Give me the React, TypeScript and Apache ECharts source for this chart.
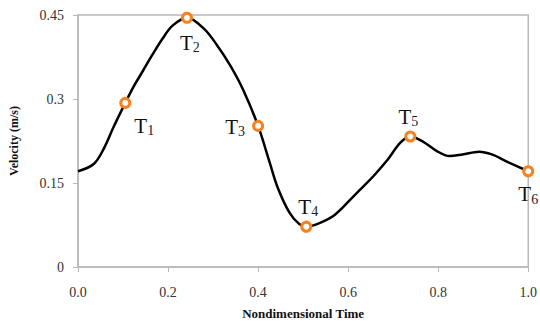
import React, { useEffect, useRef } from "react";
import * as echarts from "echarts";

const curveX = [0, 0.035, 0.057, 0.079, 0.105, 0.122, 0.144, 0.166, 0.188, 0.21, 0.242, 0.279, 0.308, 0.338, 0.367, 0.4, 0.426, 0.443, 0.469, 0.491, 0.507, 0.535, 0.57, 0.607, 0.635, 0.657, 0.688, 0.716, 0.738, 0.766, 0.797, 0.825, 0.854, 0.891, 0.919, 0.956, 1.0];
const curveY = [0.171, 0.184, 0.211, 0.25, 0.293, 0.32, 0.35, 0.38, 0.408, 0.431, 0.445, 0.426, 0.397, 0.36, 0.316, 0.252, 0.186, 0.143, 0.098, 0.077, 0.072, 0.078, 0.093, 0.122, 0.145, 0.163, 0.192, 0.222, 0.233, 0.224, 0.207, 0.198, 0.201, 0.206, 0.201, 0.187, 0.171];

const pointNames = ["1", "2", "3", "4", "5", "6"];
const pointX = [0.105, 0.242, 0.4, 0.507, 0.738, 1.0];
const pointY = [0.293, 0.445, 0.252, 0.072, 0.233, 0.171];
const labelOffsets = [[19, 23], [3, 25], [-23, 1], [2, -20], [-2, -20], [0, 23]];

const SERIF = "Liberation Serif, Times New Roman, serif";

export default function App() {
  const ref = useRef<HTMLDivElement>(null);
  useEffect(() => {
    if (!ref.current) return;
    const chart = echarts.init(ref.current, null, { renderer: "svg" });
    chart.setOption({
      animation: false,
      backgroundColor: "#ffffff",
      grid: { left: 72, right: 10, top: 15, bottom: 56, show: true, borderColor: "#b8b8b8", borderWidth: 1.5 },
      xAxis: {
        type: "value",
        min: 0,
        max: 1,
        interval: 0.2,
        name: "Nondimensional Time",
        nameLocation: "middle",
        nameGap: 40,
        nameTextStyle: { fontFamily: SERIF, fontWeight: "bold", fontSize: 13, color: "#111" },
        axisLine: { show: true, lineStyle: { color: "#b8b8b8", width: 1.5 } },
        axisTick: { show: true, length: 5, lineStyle: { color: "#b8b8b8" } },
        splitLine: { show: false },
        axisLabel: { fontFamily: SERIF, fontSize: 14, color: "#333", margin: 18, formatter: (v: number) => v.toFixed(1) },
      },
      yAxis: {
        type: "value",
        min: 0,
        max: 0.45,
        interval: 0.15,
        name: "Velocity (m/s)",
        nameLocation: "middle",
        nameGap: 58,
        nameTextStyle: { fontFamily: SERIF, fontWeight: "bold", fontSize: 12, color: "#111" },
        axisLine: { show: true, lineStyle: { color: "#b8b8b8", width: 1.5 } },
        axisTick: { show: true, length: 5, lineStyle: { color: "#b8b8b8" } },
        splitLine: { show: false },
        axisLabel: { fontFamily: SERIF, fontSize: 14, color: "#333", margin: 14 },
      },
      series: [
        {
          type: "line",
          data: curveX.map((x, i) => [x, curveY[i]]),
          smooth: 0.35,
          showSymbol: false,
          lineStyle: { color: "#000", width: 2.5 },
          z: 2,
        },
        {
          type: "scatter",
          symbol: "circle",
          symbolSize: 9,
          itemStyle: { color: "#fff", borderColor: "#F5821F", borderWidth: 3, opacity: 1 },
          z: 3,
          data: pointX.map((x, i) => ({
            value: [x, pointY[i]],
            label: {
              show: true,
              position: "inside",
              offset: labelOffsets[i],
              formatter: "{t|T}{s|" + pointNames[i] + "}",
              rich: {
                t: { fontFamily: SERIF, fontSize: 21, color: "#111", lineHeight: 22 },
                s: { fontFamily: SERIF, fontSize: 14, color: "#1a1a2a", padding: [10, 0, 0, 0], lineHeight: 14 },
              },
            },
          })),
        },
      ],
    });
    return () => chart.dispose();
  }, []);
  return <div ref={ref} style={{ width: 540, height: 325, position: "absolute", left: 0, top: 0 }} />;
}
